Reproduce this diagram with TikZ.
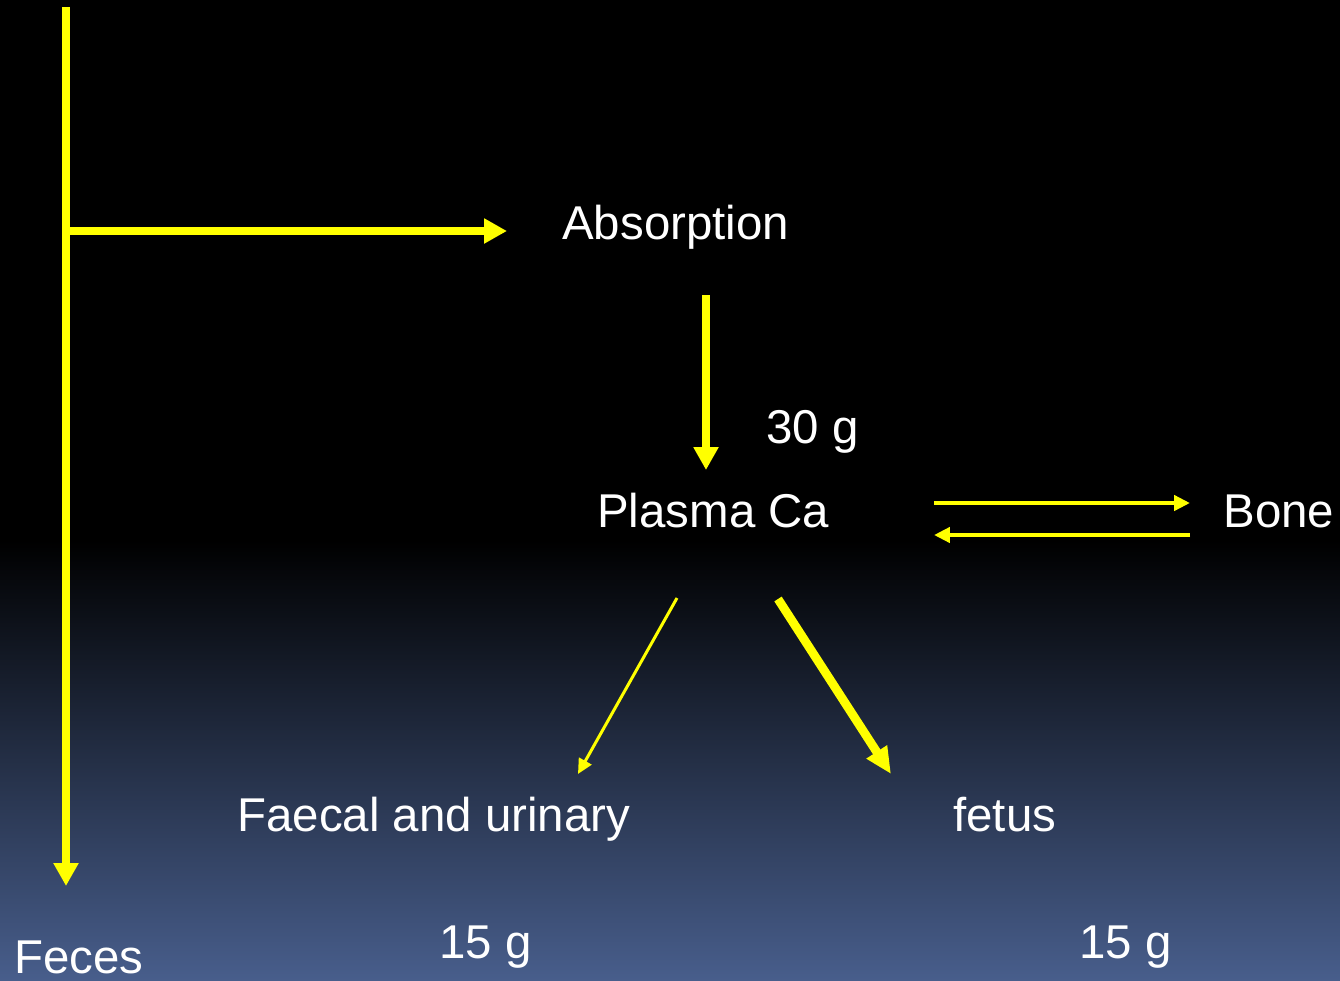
\documentclass[tikz,border=0pt]{standalone}
\usepackage{fontspec}
\setmainfont{Liberation Sans}
\usetikzlibrary{arrows.meta}
\definecolor{slideblue}{RGB}{72,94,140}
\definecolor{flowyellow}{RGB}{255,255,0}

\begin{document}
\begin{tikzpicture}[x=0.02cm,y=-0.02cm,
  lbl/.style={anchor=base west,inner sep=0pt,text=white,font=\fontsize{27}{32}\selectfont},
  flowmain/.style={draw=flowyellow,line width=4.5pt,-{Triangle[length=13pt,width=13.5pt]}},
  flowpair/.style={draw=flowyellow,line width=2.3pt,-{Triangle[length=9pt,width=8.5pt]}},
  flowthin/.style={draw=flowyellow,line width=1.7pt,-{Triangle[length=8.5pt,width=8pt]}},
  flowthick/.style={draw=flowyellow,line width=5pt,-{Triangle[length=15pt,width=13pt]}}]
\useasboundingbox (0,0) rectangle (1340,981);
\fill[black] (0,0) rectangle (1340,981);
\shade[top color=black,bottom color=slideblue] (0,540) rectangle (1340,981);

% labels
\node[lbl] (absorb) at (562,239) {Absorption};
\node[lbl] (thirty) at (766,443) {30 g};
\node[lbl] (plasma) at (597,527) {Plasma Ca};
\node[lbl] (bone) at (1223,527) {Bone};
\node[lbl] (faecal) at (237,831) {Faecal and urinary};
\node[lbl] (fetus) at (953,831) {fetus};
\node[lbl] (urine15) at (439,958) {15 g};
\node[lbl] (fetus15) at (1079,958) {15 g};
\node[lbl] (feces) at (14,973) {Feces};

% arrow ends
\coordinate (gutTop) at (66,7);
\coordinate (gutSplit) at (66,231);
\coordinate (gutEnd) at (66,886);
\coordinate (absIn) at (507,231);
\coordinate (absOut) at (706,295);
\coordinate (plasIn) at (706,470);
\coordinate (toBoneA) at (934,503);
\coordinate (toBoneB) at (1190,503);
\coordinate (fromBoneA) at (1190,535);
\coordinate (fromBoneB) at (934,535);
\coordinate (lossOut) at (677,598);
\coordinate (lossIn) at (578,774);
\coordinate (fetOut) at (778,599);
\coordinate (fetIn) at (891,774);

\draw[flowmain] (gutTop) -- (gutEnd);
\draw[flowmain] (gutSplit) -- (absIn);
\draw[flowmain] (absOut) -- (plasIn);
\draw[flowpair] (toBoneA) -- (toBoneB);
\draw[flowpair] (fromBoneA) -- (fromBoneB);
\draw[flowthin] (lossOut) -- (lossIn);
\draw[flowthick] (fetOut) -- (fetIn);
\end{tikzpicture}
\end{document}
